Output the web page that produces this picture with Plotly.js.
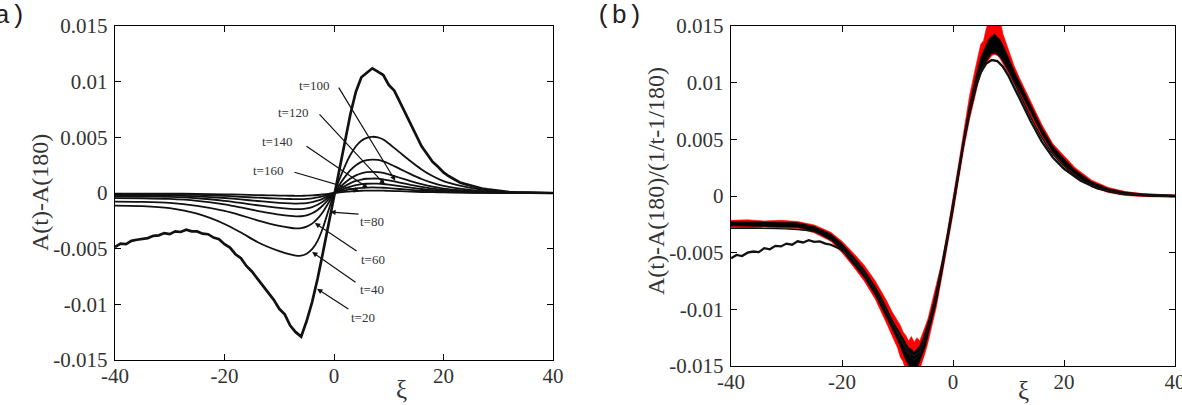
<!DOCTYPE html>
<html>
<head>
<meta charset="utf-8">
<script src="https://cdn.plot.ly/plotly-3.0.1.min.js"></script>
<style>
html,body{margin:0;padding:0;background:#fff;}
#chart{width:1182px;height:405px;}
</style>
</head>
<body>
<div id="chart"></div>
<script>
// ---------- tick labels ----------
const xTickVals = [-40, -20, 0, 20, 40];
const xTickText = ['-40', '-20', '0', '20', '40'];
const yTickVals = [-0.015, -0.01, -0.005, 0, 0.005, 0.01, 0.015];
const yTickText = ['-0.015', '-0.01', '-0.005', '0', '0.005', '0.01', '0.015'];

// ---------- panel (a): A(t)-A(180) ----------
const xi = [-40,-35,-30,-25,-20,-17,-14,-12,-10,-8,-7,-6,-5,-4,-3,-2,-1,0,1,2,3,4,5,6,7,8,9,10,12,14,16,18,20,23,26,30,35,40];

const a_t40 = [-1.14e-3,-1.18e-3,-1.36e-3,-1.86e-3,-2.78e-3,-3.55e-3,-4.4e-3,-4.85e-3,-5.22e-3,-5.52e-3,-5.62e-3,-5.63e-3,-5.45e-3,-5.05e-3,-4.3e-3,-3.1e-3,-1.55e-3,-0.05e-3,1.25e-3,2.42e-3,3.43e-3,4.2e-3,4.7e-3,4.95e-3,5.05e-3,5.0e-3,4.8e-3,4.45e-3,3.65e-3,2.85e-3,2.12e-3,1.52e-3,1.06e-3,0.66e-3,0.38e-3,0.15e-3,0.05e-3,0];
const a_t60 = [-0.78e-3,-0.8e-3,-0.88e-3,-1.15e-3,-1.6e-3,-2.0e-3,-2.45e-3,-2.72e-3,-2.95e-3,-3.12e-3,-3.17e-3,-3.15e-3,-3.02e-3,-2.75e-3,-2.3e-3,-1.68e-3,-0.88e-3,-0.05e-3,0.75e-3,1.45e-3,2.05e-3,2.5e-3,2.8e-3,2.95e-3,3.0e-3,2.97e-3,2.85e-3,2.65e-3,2.17e-3,1.7e-3,1.26e-3,0.9e-3,0.63e-3,0.39e-3,0.22e-3,0.09e-3,0.03e-3,0];
const a_t80 = [-0.46e-3,-0.47e-3,-0.53e-3,-0.7e-3,-1.02e-3,-1.3e-3,-1.6e-3,-1.78e-3,-1.94e-3,-2.06e-3,-2.1e-3,-2.09e-3,-2.0e-3,-1.82e-3,-1.52e-3,-1.1e-3,-0.57e-3,-0.03e-3,0.48e-3,0.92e-3,1.3e-3,1.58e-3,1.77e-3,1.87e-3,1.9e-3,1.88e-3,1.8e-3,1.67e-3,1.37e-3,1.07e-3,0.8e-3,0.57e-3,0.4e-3,0.25e-3,0.14e-3,0.06e-3,0.02e-3,0];
const a_t100 = [-0.3e-3,-0.31e-3,-0.35e-3,-0.47e-3,-0.7e-3,-0.89e-3,-1.1e-3,-1.23e-3,-1.34e-3,-1.42e-3,-1.45e-3,-1.44e-3,-1.38e-3,-1.26e-3,-1.05e-3,-0.76e-3,-0.39e-3,-0.02e-3,0.33e-3,0.63e-3,0.89e-3,1.08e-3,1.21e-3,1.28e-3,1.3e-3,1.29e-3,1.23e-3,1.14e-3,0.94e-3,0.73e-3,0.55e-3,0.39e-3,0.27e-3,0.17e-3,0.1e-3,0.04e-3,0.01e-3,0];
const a_t120 = [-0.18e-3,-0.19e-3,-0.22e-3,-0.3e-3,-0.45e-3,-0.58e-3,-0.72e-3,-0.8e-3,-0.88e-3,-0.93e-3,-0.95e-3,-0.94e-3,-0.9e-3,-0.82e-3,-0.69e-3,-0.5e-3,-0.26e-3,-0.01e-3,0.21e-3,0.41e-3,0.58e-3,0.7e-3,0.79e-3,0.83e-3,0.85e-3,0.84e-3,0.81e-3,0.75e-3,0.61e-3,0.48e-3,0.36e-3,0.26e-3,0.18e-3,0.11e-3,0.06e-3,0.03e-3,0.01e-3,0];
const a_t140 = [-0.1e-3,-0.11e-3,-0.13e-3,-0.17e-3,-0.26e-3,-0.34e-3,-0.42e-3,-0.47e-3,-0.51e-3,-0.54e-3,-0.55e-3,-0.55e-3,-0.52e-3,-0.48e-3,-0.4e-3,-0.29e-3,-0.15e-3,-0.01e-3,0.12e-3,0.24e-3,0.34e-3,0.41e-3,0.46e-3,0.49e-3,0.5e-3,0.49e-3,0.47e-3,0.44e-3,0.36e-3,0.28e-3,0.21e-3,0.15e-3,0.1e-3,0.06e-3,0.04e-3,0.02e-3,0,0];
const a_t160 = [-0.05e-3,-0.05e-3,-0.06e-3,-0.08e-3,-0.12e-3,-0.15e-3,-0.19e-3,-0.21e-3,-0.23e-3,-0.245e-3,-0.25e-3,-0.25e-3,-0.24e-3,-0.22e-3,-0.18e-3,-0.13e-3,-0.07e-3,0,0.05e-3,0.1e-3,0.15e-3,0.18e-3,0.2e-3,0.215e-3,0.22e-3,0.215e-3,0.21e-3,0.19e-3,0.16e-3,0.12e-3,0.09e-3,0.07e-3,0.05e-3,0.03e-3,0.02e-3,0.01e-3,0,0];

const xa20 = [-40,-39,-38,-37,-36,-35,-34,-33,-32,-31,-30,-29,-28,-27,-26,-25,-24,-23,-22,-21,-20,-19,-18,-17,-16,-15,-14,-13,-12,-11,-10,-9,-8,-7,-6,-5,-4,-3,-2,-1,0,1,2,3,4,5,6,7,8,9,10,11,12,13,14,15,16,17,18,19,20,21,22,23,24,25,26,27,28,29,30,31,32,33,34,35,36,37,38,39,40];
const a_t20 = [-4.85e-3,-4.55e-3,-4.6e-3,-4.3e-3,-4.2e-3,-4.1e-3,-4.05e-3,-3.85e-3,-3.8e-3,-3.6e-3,-3.7e-3,-3.45e-3,-3.5e-3,-3.3e-3,-3.45e-3,-3.45e-3,-3.65e-3,-3.7e-3,-4.0e-3,-4.15e-3,-4.6e-3,-4.9e-3,-5.5e-3,-5.85e-3,-6.55e-3,-7.05e-3,-7.7e-3,-8.25e-3,-9.0e-3,-9.6e-3,-10.4e-3,-10.9e-3,-11.9e-3,-12.5e-3,-12.9e-3,-11.5e-3,-9.8e-3,-7.7e-3,-5.3e-3,-2.8e-3,-0.3e-3,2.2e-3,4.7e-3,7.1e-3,9.1e-3,10.4e-3,10.8e-3,11.2e-3,10.9e-3,10.6e-3,9.7e-3,9.2e-3,8.2e-3,7.2e-3,6.1e-3,5.2e-3,4.2e-3,3.5e-3,2.8e-3,2.35e-3,1.85e-3,1.5e-3,1.2e-3,0.95e-3,0.8e-3,0.65e-3,0.5e-3,0.4e-3,0.32e-3,0.25e-3,0.18e-3,0.13e-3,0.09e-3,0.06e-3,0.04e-3,0.02e-3,0.01e-3,0.01e-3,0,0,0];

// ---------- panel (b): (A(t)-A(180))/(1/t-1/180) ----------
const xb = [-40,-37,-34,-31,-28,-25,-22,-20,-18,-16,-14,-13,-12,-11,-10,-9.5,-9,-8.5,-8,-7.5,-7,-6.5,-6,-5.5,-5,-4.5,-4,-3.5,-3,-2,-1,0,1,2,3,4,4.5,5,5.5,6,6.5,7,7.5,8,8.5,9,9.5,10,11,12,13,14,16,18,20,22,25,28,31,34,37,40];

const b_red_hi = [-2.15e-3,-2.1e-3,-2.2e-3,-2.15e-3,-2.25e-3,-2.55e-3,-3.2e-3,-4.0e-3,-5.0e-3,-6.1e-3,-7.5e-3,-8.3e-3,-9.2e-3,-10.2e-3,-11.0e-3,-11.4e-3,-12.0e-3,-12.3e-3,-12.8e-3,-12.4e-3,-12.9e-3,-12.5e-3,-12.8e-3,-12.2e-3,-11.5e-3,-10.8e-3,-9.8e-3,-8.9e-3,-7.9e-3,-5.8e-3,-3.1e-3,-0.3e-3,2.8e-3,5.9e-3,8.9e-3,11.2e-3,12.2e-3,13.4e-3,13.7e-3,14.8e-3,15.4e-3,15.1e-3,15.8e-3,15.0e-3,15.5e-3,14.3e-3,13.6e-3,12.9e-3,11.5e-3,10.4e-3,9.4e-3,8.3e-3,6.3e-3,4.6e-3,3.5e-3,2.5e-3,1.4e-3,0.75e-3,0.4e-3,0.22e-3,0.12e-3,0.08e-3];
const b_red_lo = [-2.75e-3,-2.8e-3,-2.75e-3,-2.85e-3,-2.85e-3,-3.25e-3,-4.0e-3,-5.0e-3,-6.2e-3,-7.5e-3,-9.1e-3,-10.1e-3,-11.2e-3,-12.3e-3,-13.4e-3,-14.2e-3,-14.6e-3,-15.4e-3,-15.6e-3,-16.0e-3,-15.9e-3,-16.1e-3,-15.4e-3,-14.6e-3,-13.8e-3,-12.9e-3,-11.9e-3,-10.9e-3,-9.8e-3,-7.1e-3,-4.4e-3,-1.6e-3,1.4e-3,4.3e-3,6.8e-3,9.0e-3,9.9e-3,10.7e-3,11.3e-3,11.7e-3,12.1e-3,12.4e-3,12.5e-3,12.4e-3,12.1e-3,11.7e-3,11.3e-3,10.8e-3,9.9e-3,8.9e-3,7.9e-3,6.9e-3,5.2e-3,3.7e-3,2.6e-3,1.8e-3,0.8e-3,0.3e-3,0.05e-3,-0.05e-3,-0.08e-3,-0.1e-3];
const b_blk_hi = [-2.27e-3,-2.25e-3,-2.3e-3,-2.3e-3,-2.35e-3,-2.7e-3,-3.35e-3,-4.2e-3,-5.3e-3,-6.5e-3,-8.0e-3,-8.9e-3,-9.9e-3,-10.9e-3,-11.7e-3,-12.1e-3,-12.6e-3,-12.9e-3,-13.4e-3,-13.5e-3,-13.8e-3,-13.5e-3,-13.2e-3,-12.7e-3,-11.9e-3,-11.3e-3,-10.4e-3,-9.4e-3,-8.4e-3,-6.15e-3,-3.45e-3,-0.65e-3,2.35e-3,5.35e-3,8.1e-3,10.3e-3,11.3e-3,12.2e-3,12.8e-3,13.4e-3,13.9e-3,14.1e-3,14.3e-3,14.0e-3,13.8e-3,13.3e-3,12.8e-3,12.2e-3,11.05e-3,10.05e-3,9.05e-3,8.05e-3,6.0e-3,4.4e-3,3.3e-3,2.3e-3,1.25e-3,0.65e-3,0.35e-3,0.2e-3,0.12e-3,0.08e-3];
const b_blk_lo = [-2.63e-3,-2.65e-3,-2.65e-3,-2.7e-3,-2.75e-3,-3.1e-3,-3.85e-3,-4.8e-3,-5.95e-3,-7.2e-3,-8.75e-3,-9.7e-3,-10.7e-3,-11.7e-3,-12.7e-3,-13.4e-3,-13.9e-3,-14.5e-3,-14.9e-3,-15.3e-3,-15.2e-3,-15.2e-3,-14.6e-3,-13.9e-3,-13.3e-3,-12.3e-3,-11.4e-3,-10.4e-3,-9.4e-3,-6.85e-3,-4.15e-3,-1.35e-3,1.65e-3,4.65e-3,7.1e-3,9.3e-3,10.1e-3,10.8e-3,11.5e-3,11.9e-3,12.3e-3,12.6e-3,12.7e-3,12.6e-3,12.3e-3,11.9e-3,11.4e-3,11.0e-3,10.2e-3,9.3e-3,8.35e-3,7.35e-3,5.45e-3,3.85e-3,2.75e-3,1.95e-3,0.85e-3,0.35e-3,0.1e-3,0,-0.04e-3,-0.08e-3];

const b_t40 = [-2.85e-3,-2.85e-3,-2.9e-3,-3.15e-3,-4.5e-3,-6.0e-3,-8.1e-3,-9.9e-3,-12.1e-3,-14.0e-3,-14.4e-3,-14.0e-3,-12.6e-3,-10.9e-3,-8.9e-3,-6.5e-3,-3.8e-3,-1.0e-3,2.0e-3,4.9e-3,7.5e-3,9.6e-3,11.1e-3,12.1e-3,12.6e-3,12.5e-3,12.0e-3,11.1e-3,9.0e-3,6.95e-3,5.15e-3,3.7e-3,2.65e-3,1.5e-3,0.75e-3,0.28e-3,0.07e-3,0];

const xb20 = [-40,-39,-38,-37,-36,-35,-34,-33,-32,-31,-30,-29,-28,-27,-26,-25,-24,-23,-22,-21,-20,-18,-16,-14,-12,-10,-9,-8,-7,-6,-5,-4,-3,-2,-1,0,1,2,3,4,5,6,7,8,9,10,12,14,16,18,20,23,26,30,35,40];
const b_t20 = [-5.5e-3,-5.2e-3,-5.3e-3,-5.0e-3,-4.9e-3,-4.95e-3,-4.6e-3,-4.7e-3,-4.4e-3,-4.45e-3,-4.2e-3,-4.3e-3,-4.0e-3,-4.1e-3,-3.9e-3,-4.05e-3,-4.0e-3,-4.2e-3,-4.3e-3,-4.5e-3,-4.75e-3,-5.6e-3,-6.8e-3,-8.3e-3,-10.1e-3,-12.1e-3,-13.0e-3,-13.8e-3,-14.1e-3,-13.7e-3,-12.4e-3,-10.7e-3,-8.7e-3,-6.3e-3,-3.6e-3,-0.8e-3,2.1e-3,5.0e-3,7.5e-3,9.5e-3,10.9e-3,11.7e-3,12.0e-3,11.9e-3,11.4e-3,10.6e-3,8.6e-3,6.6e-3,4.8e-3,3.4e-3,2.4e-3,1.35e-3,0.68e-3,0.24e-3,0.06e-3,0];

// ---------- styling ----------
const SERIF = '"Liberation Serif", "Times New Roman", serif';
const MONO = '"Liberation Mono", "DejaVu Sans Mono", monospace';
const INK = '#111';
const TXT = '#333';

function line(x, y, xa, ya, w, color) {
  return {x: x, y: y, xaxis: xa, yaxis: ya, type: 'scatter', mode: 'lines',
          line: {color: color || INK, width: w, shape: 'linear'}, hoverinfo: 'skip', showlegend: false};
}
function smooth(x, y, xa, ya, w) {
  const t = line(x, y, xa, ya, w);
  t.line.shape = 'spline'; t.line.smoothing = 0.6;
  return t;
}
function band(x, lo, hi, xa, ya, color) {
  return [
    {x: x, y: lo, xaxis: xa, yaxis: ya, type: 'scatter', mode: 'lines',
     line: {color: color, width: 0.6}, hoverinfo: 'skip', showlegend: false},
    {x: x, y: hi, xaxis: xa, yaxis: ya, type: 'scatter', mode: 'lines', fill: 'tonexty',
     fillcolor: color, line: {color: color, width: 0.6}, hoverinfo: 'skip', showlegend: false}
  ];
}

const traces = [
  smooth(xi, a_t160, 'x', 'y', 1.8),
  smooth(xi, a_t140, 'x', 'y', 1.8),
  smooth(xi, a_t120, 'x', 'y', 1.8),
  smooth(xi, a_t100, 'x', 'y', 1.8),
  smooth(xi, a_t80, 'x', 'y', 1.8),
  smooth(xi, a_t60, 'x', 'y', 1.8),
  smooth(xi, a_t40, 'x', 'y', 1.8),
  line(xa20, a_t20, 'x', 'y', 2.7),
  ...band(xb, b_red_lo, b_red_hi, 'x2', 'y2', '#ff0000'),
  ...band(xb, b_blk_lo, b_blk_hi, 'x2', 'y2', '#000000'),
  smooth(xi, b_t40, 'x2', 'y2', 1.4),
  line(xb20, b_t20, 'x2', 'y2', 2.3)
];

function xAxis(domain, anchor) {
  return {domain: domain, anchor: anchor, range: [-40, 40], tickmode: 'array',
    tickvals: xTickVals, ticktext: xTickText, ticks: 'inside', ticklen: 6, tickwidth: 1,
    tickcolor: '#000', showline: true, linecolor: '#000', linewidth: 1.3, mirror: 'ticks',
    ticklabeloverflow: 'allow', ticklabelstandoff: -4,
    showgrid: false, zeroline: false, tickfont: {family: SERIF, size: 21, color: TXT}, fixedrange: true};
}
function yAxis(domain, anchor) {
  return {domain: domain, anchor: anchor, range: [-0.015, 0.015], tickmode: 'array',
    tickvals: yTickVals, ticktext: yTickText, ticks: 'inside', ticklen: 6, tickwidth: 1,
    tickcolor: '#000', showline: true, linecolor: '#000', linewidth: 1.3, mirror: 'ticks',
    ticklabeloverflow: 'allow', ticklabelstandoff: 2,
    showgrid: false, zeroline: false, tickfont: {family: SERIF, size: 21, color: TXT}, fixedrange: true};
}

const W = 1182, H = 405;
const px = v => v / W;
const py = v => 1 - v / H;

const labelFont = {family: SERIF, size: 13, color: TXT};
function arrow(tipX, tipY, tailX, tailY) {
  return {x: tipX, y: tipY, ax: tailX, ay: tailY, xref: 'x', yref: 'y', axref: 'x', ayref: 'y',
    text: '', showarrow: true, arrowhead: 2, arrowsize: 0.9, arrowwidth: 1.2, arrowcolor: '#111'};
}
function tlabel(txt, x, y) {
  return {x: x, y: y, xref: 'x', yref: 'y', text: txt, showarrow: false, font: labelFont,
    xanchor: 'center', yanchor: 'middle'};
}

const annotations = [
  // panel labels
  {x: px(28), y: py(16), xref: 'paper', yref: 'paper', text: '(a)', showarrow: false,
   xanchor: 'right', yanchor: 'middle', font: {family: MONO, size: 26, color: '#222'}},
  {x: px(594), y: py(16), xref: 'paper', yref: 'paper', text: '(b)', showarrow: false,
   xanchor: 'left', yanchor: 'middle', font: {family: MONO, size: 26, color: '#222'}},
  // axis titles
  {x: px(40), y: py(193), xref: 'paper', yref: 'paper', text: 'A(t)-A(180)', textangle: -90,
   showarrow: false, xanchor: 'center', yanchor: 'middle', font: {family: SERIF, size: 24, color: TXT}},
  {x: px(656), y: py(181), xref: 'paper', yref: 'paper', text: 'A(t)-A(180)/(1/t-1/180)', textangle: -90,
   showarrow: false, xanchor: 'center', yanchor: 'middle', font: {family: SERIF, size: 24, color: TXT}},
  {x: px(401), y: py(389), xref: 'paper', yref: 'paper', text: 'ξ', showarrow: false,
   xanchor: 'center', yanchor: 'middle', font: {family: SERIF, size: 25, color: TXT}},
  {x: px(1023), y: py(390), xref: 'paper', yref: 'paper', text: 'ξ', showarrow: false,
   xanchor: 'center', yanchor: 'middle', font: {family: SERIF, size: 25, color: TXT}},
  // curve labels, panel (a)
  tlabel('t=100', -3.7, 9.7e-3), arrow(11.2, 1.1e-3, 0.7, 9.6e-3),
  tlabel('t=120', -7.5, 7.2e-3), arrow(9.3, 0.75e-3, -2.9, 7.2e-3),
  tlabel('t=140', -10.4, 4.6e-3), arrow(6.2, 0.45e-3, -5.3, 4.3e-3),
  tlabel('t=160', -12.1, 2.0e-3), arrow(4.7, 0.15e-3, -7.5, 1.9e-3),
  tlabel('t=80', 6.9, -2.6e-3), arrow(-0.7, -1.7e-3, 4.75, -1.9e-3),
  tlabel('t=60', 7.1, -6.0e-3), arrow(-3.5, -2.7e-3, 4.4, -5.3e-3),
  tlabel('t=40', 6.9, -8.7e-3), arrow(-4.0, -5.3e-3, 4.2, -8.1e-3),
  tlabel('t=20', 5.3, -11.2e-3), arrow(-3.1, -8.6e-3, 2.9, -10.5e-3)
];

const layout = {
  width: W, height: H,
  margin: {l: 0, r: 0, t: 0, b: 0, pad: 0},
  paper_bgcolor: '#fff', plot_bgcolor: '#fff',
  showlegend: false, hovermode: false,
  font: {family: SERIF, color: TXT},
  xaxis: xAxis([px(115), px(553)], 'y'),
  yaxis: yAxis([py(360), py(26)], 'x'),
  xaxis2: xAxis([px(731), px(1175)], 'y2'),
  yaxis2: yAxis([py(366), py(26)], 'x2'),
  annotations: annotations
};

Plotly.newPlot('chart', traces, layout, {staticPlot: true, displayModeBar: false});
</script>
</body>
</html>
